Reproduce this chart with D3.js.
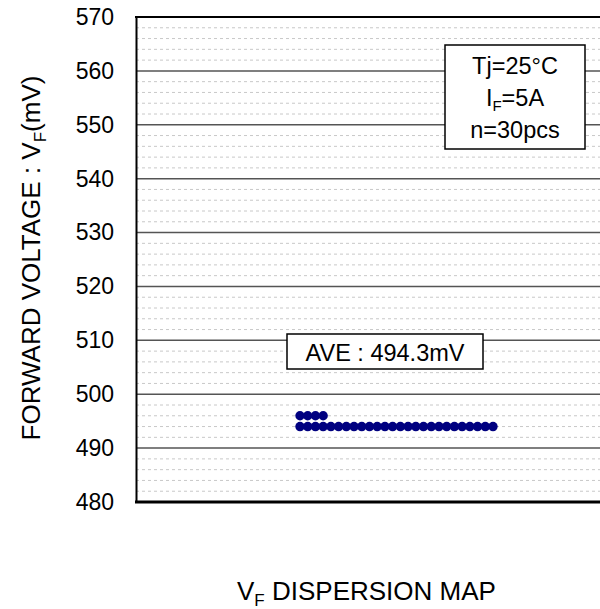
<!DOCTYPE html>
<html>
<head>
<meta charset="utf-8">
<script src="https://cdn.jsdelivr.net/npm/d3@7"></script>
<style>
  body { margin: 0; background: #fff; }
  text { font-family: "Liberation Sans", Arial, sans-serif; fill: #000; }
</style>
</head>
<body>
<div id="chart"></div>
<script>
// measured forward voltage of each sample (mV)
var vfValues = [496, 496, 496, 496,
    494, 494, 494, 494, 494, 494, 494, 494, 494, 494, 494, 494, 494,
    494, 494, 494, 494, 494, 494, 494, 494, 494, 494, 494, 494, 494];
var yTicks = [480, 490, 500, 510, 520, 530, 540, 550, 560, 570];
var minorStep = 2;
var conditions = ["Tj=25°C", "IF=5A", "n=30pcs"];
var aveLabel = "AVE : 494.3mV";

var svgWidth = 600;
var svgHeight = 609;

var margin = { top: 17, left: 136, bottom: 502 };

var svg = d3.select("#chart")
    .append("svg")
    .attr("width", svgWidth)
    .attr("height", svgHeight);

var yScale = d3.scaleLinear()
    .domain([480, 570])
    .range([margin.bottom, margin.top]);

// column of each dot inside its voltage row
var counts = {};
var dots = vfValues.map(function(v) {
    counts[v] = (counts[v] || 0) + 1;
    return { vf: v, col: counts[v] - 1 };
});

var xScale = d3.scaleLinear()
    .domain([0, 25])
    .range([300, 493]);

// minor dashed gridlines
var minorTicks = d3.range(480 + minorStep, 570, minorStep).filter(function(v) { return v % 10 !== 0; });
svg.append("g").selectAll("line")
    .data(minorTicks)
    .enter()
    .append("line")
    .attr("x1", margin.left)
    .attr("x2", svgWidth)
    .attr("y1", d => yScale(d))
    .attr("y2", d => yScale(d))
    .attr("stroke", "#c8c8c8")
    .attr("stroke-width", 1)
    .attr("stroke-dasharray", "3,3");

// major gridlines
svg.append("g").selectAll("line")
    .data(yTicks.slice(1, -1))
    .enter()
    .append("line")
    .attr("x1", margin.left)
    .attr("x2", svgWidth)
    .attr("y1", d => yScale(d))
    .attr("y2", d => yScale(d))
    .attr("stroke", "#555")
    .attr("stroke-width", 1.5);

// left axis with labels
var leftAxis = d3.axisLeft(yScale)
    .tickValues(yTicks)
    .tickSize(0)
    .tickPadding(22);

var axisG = svg.append("g")
    .attr("transform", `translate(${margin.left}, 0)`)
    .call(leftAxis);
axisG.select(".domain").attr("stroke", "#000").attr("stroke-width", 2);
axisG.selectAll("text")
    .style("font-family", "Liberation Sans, Arial, sans-serif")
    .style("font-size", "23px")
    .attr("fill", "#000");

// frame top and bottom
svg.append("line")
    .attr("x1", margin.left - 1).attr("x2", svgWidth)
    .attr("y1", yScale(570)).attr("y2", yScale(570))
    .attr("stroke", "#000").attr("stroke-width", 2);
svg.append("line")
    .attr("x1", margin.left - 1).attr("x2", svgWidth)
    .attr("y1", yScale(480)).attr("y2", yScale(480))
    .attr("stroke", "#000").attr("stroke-width", 3);

// dots
svg.append("g").selectAll("circle")
    .data(dots)
    .enter()
    .append("circle")
    .attr("cx", d => xScale(d.col))
    .attr("cy", d => yScale(d.vf))
    .attr("r", 4.7)
    .attr("fill", "#000080");

// average box
svg.append("rect")
    .attr("x", 287).attr("y", 334)
    .attr("width", 196).attr("height", 35)
    .attr("fill", "#fff").attr("stroke", "#000").attr("stroke-width", 1.5);
svg.append("text")
    .attr("x", 385).attr("y", 361)
    .attr("text-anchor", "middle")
    .style("font-size", "23.5px")
    .text(aveLabel);

// conditions box
svg.append("rect")
    .attr("x", 445).attr("y", 45)
    .attr("width", 140).attr("height", 104)
    .attr("fill", "#fff").attr("stroke", "#000").attr("stroke-width", 1.5);
var condText = svg.append("g").selectAll("text")
    .data(conditions)
    .enter()
    .append("text")
    .attr("x", 515)
    .attr("y", (d, i) => 74 + i * 32)
    .attr("text-anchor", "middle")
    .style("font-size", "23.5px");
condText.each(function(d) {
    var t = d3.select(this);
    if (d.indexOf("IF") === 0) {
        t.append("tspan").text("I");
        t.append("tspan").attr("dy", 5).style("font-size", "15px").text("F");
        t.append("tspan").attr("dy", -5).text(d.slice(2));
    } else {
        t.text(d);
    }
});

// y axis title
var yTitle = svg.append("text")
    .attr("transform", "translate(40, 258) rotate(-90)")
    .attr("text-anchor", "middle")
    .style("font-size", "26px");
yTitle.append("tspan").text("FORWARD VOLTAGE : V");
yTitle.append("tspan").attr("dy", 6).style("font-size", "17px").text("F");
yTitle.append("tspan").attr("dy", -6).text("(mV)");

// chart title
var title = svg.append("text")
    .attr("x", 237).attr("y", 600)
    .attr("text-anchor", "start")
    .style("font-size", "26px");
title.append("tspan").text("V");
title.append("tspan").attr("dy", 6).style("font-size", "17px").text("F");
title.append("tspan").attr("dy", -6).text(" DISPERSION MAP");
</script>
</body>
</html>
